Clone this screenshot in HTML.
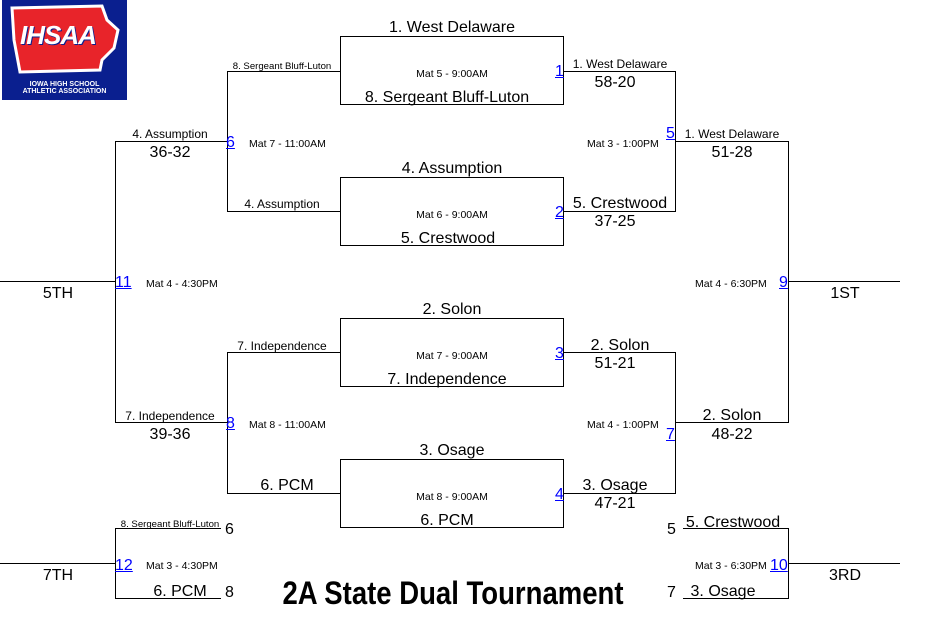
<!DOCTYPE html>
<html><head><meta charset="utf-8"><style>
body{margin:0;width:940px;height:633px;background:#fff;position:relative;overflow:hidden;font-family:"Liberation Sans",Arial,sans-serif;color:#000}
.t{position:absolute;white-space:nowrap;line-height:1;margin-top:2px}
.c{transform:translateX(-50%)}
.L{font-size:16px}.M{font-size:12px}.S{font-size:10px}.X{font-size:9.6px}.W{font-size:10.5px}
.n{color:#00f;text-decoration:underline;font-size:16px}
</style></head><body>
<svg width="940" height="633" style="position:absolute;left:0;top:0" stroke="#000" stroke-width="1" fill="none" shape-rendering="crispEdges">
<rect x="340.5" y="36.5" width="223" height="68"/>
<rect x="340.5" y="177.5" width="223" height="68"/>
<rect x="340.5" y="318.5" width="223" height="68"/>
<rect x="340.5" y="459.5" width="223" height="68"/>
<path d="M227.5 71.5H340M227.5 211.5H340M227.5 71V212M115 141.5H227.5"/>
<path d="M563 71.5H675.5M563 211.5H675.5M675.5 71V212M675 141.5H788.5M788.5 141V423M788 281.5H900"/>
<path d="M227.5 352.5H340M227.5 493.5H340M227.5 352V494M115 422.5H227.5"/>
<path d="M563 352.5H675.5M563 493.5H675.5M675.5 352V494M675 422.5H788.5"/>
<path d="M115.5 141V423M0 281.5H115.5"/>
<path d="M115 528.5H221M115.5 528V599M115 598.5H221M0 563.5H115"/>
<path d="M683 528.5H788.5M788.5 528V599M683 598.5H788.5M788 563.5H900"/>
</svg>
<div style="position:absolute;left:2px;top:0;width:125px;height:100px;background:#0a1f8f">
<svg width="125" height="100" style="position:absolute;left:0;top:0"><path d="M10 8 L100 6 L105 20 L116 30 L112 48 L100 60 L98 70 L18 72 L12 40 Z" fill="#e8242a" stroke="#fff" stroke-width="3"/></svg>
<div class="t" style="left:18px;top:18px;font:italic bold 26px 'Liberation Sans';color:#fff;letter-spacing:-1px;text-shadow:1px 1px 0 #0a1f8f">IHSAA</div>
<div class="t" style="left:0;width:125px;text-align:center;top:79px;font:bold 7px 'Liberation Sans';color:#fff">IOWA HIGH SCHOOL<br>ATHLETIC ASSOCIATION</div>
</div>
<div class="t L c" style="left:452px;top:18px">1. West Delaware</div>
<div class="t W c" style="left:452px;top:67px">Mat 5 - 9:00AM</div>
<div class="t L c" style="left:447px;top:88px">8. Sergeant Bluff-Luton</div>
<div class="t L c" style="left:452px;top:159px">4. Assumption</div>
<div class="t W c" style="left:452px;top:208px">Mat 6 - 9:00AM</div>
<div class="t L c" style="left:448px;top:229px">5. Crestwood</div>
<div class="t L c" style="left:452px;top:300px">2. Solon</div>
<div class="t W c" style="left:452px;top:349px">Mat 7 - 9:00AM</div>
<div class="t L c" style="left:447px;top:370px">7. Independence</div>
<div class="t L c" style="left:452px;top:441px">3. Osage</div>
<div class="t W c" style="left:452px;top:490px">Mat 8 - 9:00AM</div>
<div class="t L c" style="left:447px;top:511px">6. PCM</div>
<div class="t n" style="left:555px;top:62px">1</div>
<div class="t n" style="left:555px;top:203px">2</div>
<div class="t n" style="left:555px;top:344px">3</div>
<div class="t n" style="left:555px;top:485px">4</div>
<div class="t X c" style="left:282px;top:60px">8. Sergeant Bluff-Luton</div>
<div class="t M c" style="left:282px;top:196px">4. Assumption</div>
<div class="t M c" style="left:282px;top:338px">7. Independence</div>
<div class="t L c" style="left:287px;top:476px">6. PCM</div>
<div class="t M c" style="left:620px;top:56px">1. West Delaware</div>
<div class="t L c" style="left:615px;top:73px">58-20</div>
<div class="t L c" style="left:620px;top:194px">5. Crestwood</div>
<div class="t L c" style="left:615px;top:212px">37-25</div>
<div class="t L c" style="left:620px;top:336px">2. Solon</div>
<div class="t L c" style="left:615px;top:354px">51-21</div>
<div class="t L c" style="left:615px;top:476px">3. Osage</div>
<div class="t L c" style="left:615px;top:494px">47-21</div>
<div class="t M c" style="left:170px;top:126px">4. Assumption</div>
<div class="t L c" style="left:170px;top:143px">36-32</div>
<div class="t M c" style="left:170px;top:408px">7. Independence</div>
<div class="t L c" style="left:170px;top:425px">39-36</div>
<div class="t n" style="left:226px;top:133px">6</div>
<div class="t W" style="left:249px;top:137px">Mat 7 - 11:00AM</div>
<div class="t n" style="left:226px;top:414px">8</div>
<div class="t W" style="left:249px;top:418px">Mat 8 - 11:00AM</div>
<div class="t n" style="left:666px;top:124px">5</div>
<div class="t W" style="left:587px;top:137px">Mat 3 - 1:00PM</div>
<div class="t n" style="left:666px;top:425px">7</div>
<div class="t W" style="left:587px;top:418px">Mat 4 - 1:00PM</div>
<div class="t M c" style="left:732px;top:126px">1. West Delaware</div>
<div class="t L c" style="left:732px;top:143px">51-28</div>
<div class="t L c" style="left:732px;top:406px">2. Solon</div>
<div class="t L c" style="left:732px;top:425px">48-22</div>
<div class="t n" style="left:115px;top:273px">11</div>
<div class="t W" style="left:146px;top:277px">Mat 4 - 4:30PM</div>
<div class="t L c" style="left:58px;top:284px">5TH</div>
<div class="t n" style="left:779px;top:273px">9</div>
<div class="t W" style="left:695px;top:277px">Mat 4 - 6:30PM</div>
<div class="t L c" style="left:845px;top:284px">1ST</div>
<div class="t X c" style="left:170px;top:518px">8. Sergeant Bluff-Luton</div>
<div class="t L" style="left:225px;top:520px">6</div>
<div class="t n" style="left:115px;top:556px">12</div>
<div class="t W" style="left:146px;top:559px">Mat 3 - 4:30PM</div>
<div class="t L c" style="left:58px;top:566px">7TH</div>
<div class="t L c" style="left:180px;top:582px">6. PCM</div>
<div class="t L" style="left:225px;top:583px">8</div>
<div class="t L" style="left:667px;top:520px">5</div>
<div class="t L c" style="left:733px;top:513px">5. Crestwood</div>
<div class="t n" style="left:770px;top:556px">10</div>
<div class="t W" style="left:695px;top:559px">Mat 3 - 6:30PM</div>
<div class="t L c" style="left:845px;top:566px">3RD</div>
<div class="t L" style="left:667px;top:583px">7</div>
<div class="t L c" style="left:723px;top:582px">3. Osage</div>
<div class="t" style="left:453px;top:573px;font:bold 32px 'Liberation Sans Narrow','Liberation Sans',sans-serif;transform:translateX(-50%) scaleX(0.86)">2A State Dual Tournament</div>
</body></html>
